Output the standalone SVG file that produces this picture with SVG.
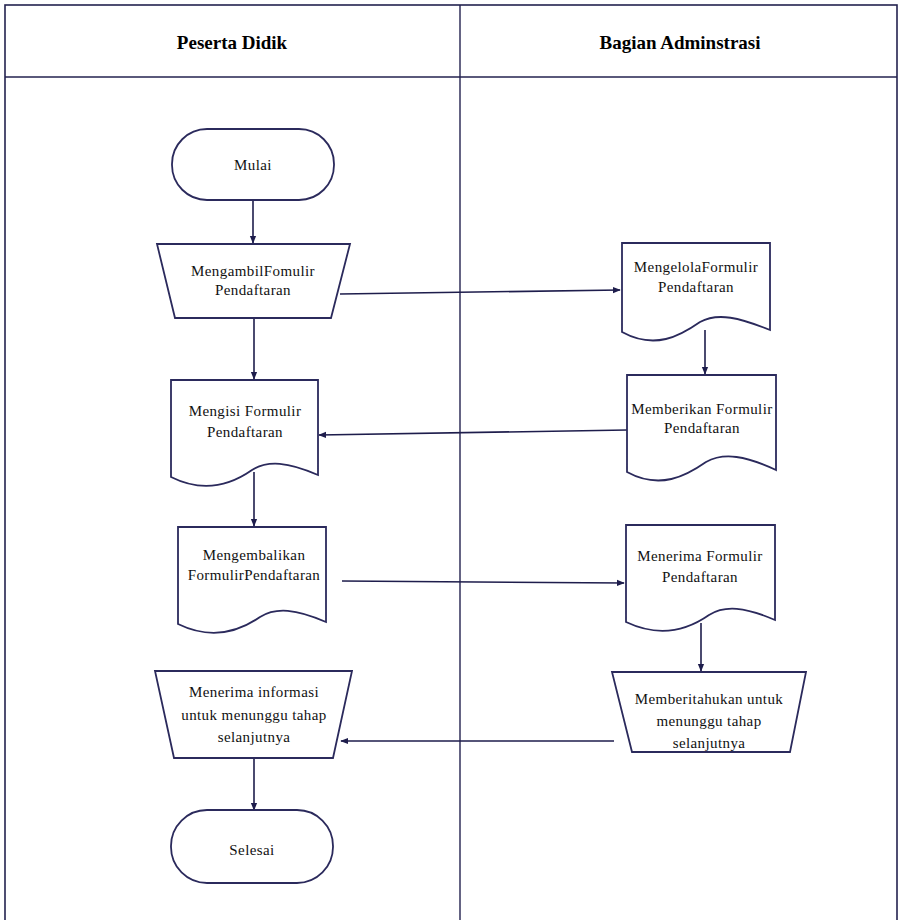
<svg xmlns="http://www.w3.org/2000/svg" width="899" height="920" viewBox="0 0 899 920">
<defs>
<marker id="ah" viewBox="0 0 10 10" refX="9" refY="5" markerWidth="8" markerHeight="8" markerUnits="userSpaceOnUse" orient="auto">
<path d="M0,1 L10,5 L0,9 z" fill="#1e1d4c"/>
</marker>
</defs>
<g id="lanes">
<rect x="5" y="5" width="892" height="925" fill="none" stroke="#23224f" stroke-width="1.6"/>
<line x1="5" y1="77" x2="897" y2="77" stroke="#23224f" stroke-width="1.6"/>
<line x1="460" y1="5" x2="460" y2="920" stroke="#23224f" stroke-width="1.4"/>
<g font-family="Liberation Serif" font-size="19" font-weight="bold" fill="#000" text-anchor="middle">
<text x="232" y="49">Peserta Didik</text>
<text x="680" y="49">Bagian Adminstrasi</text>
</g>
</g>
<g id="connectors" fill="none" stroke="#1e1d4c" stroke-width="1.6" marker-end="url(#ah)">
<line x1="253" y1="200" x2="253" y2="243"/>
<line x1="340" y1="294" x2="620" y2="290"/>
<line x1="254" y1="318" x2="254" y2="379"/>
<line x1="705" y1="330" x2="705" y2="374"/>
<line x1="627" y1="430" x2="319" y2="435"/>
<line x1="254" y1="472" x2="254" y2="526"/>
<line x1="342" y1="581" x2="624" y2="583"/>
<line x1="701" y1="623" x2="701" y2="671"/>
<line x1="614" y1="741" x2="341" y2="741"/>
<line x1="254" y1="758" x2="254" y2="810"/>
</g>
<g id="nodes" font-family="Liberation Serif" font-size="15" letter-spacing="0.4" text-anchor="middle">
<g id="mulai">
<rect fill="#fff" stroke="#2b2a5c" stroke-width="1.8" x="172" y="129" width="162" height="71" rx="35" ry="35"/>
<text fill="#111" x="253" y="170">Mulai</text>
</g>
<g id="mengambil">
<path fill="#fff" stroke="#2b2a5c" stroke-width="1.8" d="M157,244 L350,244 L331,318 L175,318 Z"/>
<text fill="#111" x="253" y="276">MengambilFomulir</text>
<text fill="#111" x="253" y="295">Pendaftaran</text>
</g>
<g id="mengelola">
<path fill="#fff" stroke="#2b2a5c" stroke-width="1.8" d="M622,243 L770,243 L770,330 C740,318 718,312 700,322 C680,336 655,350 622,332 Z"/>
<text fill="#111" x="696" y="272">MengelolaFormulir</text>
<text fill="#111" x="696" y="292">Pendaftaran</text>
</g>
<g id="memberikan">
<path fill="#fff" stroke="#2b2a5c" stroke-width="1.8" d="M627,375 L776,375 L776,470 C746,456 724,452 706,462 C686,476 660,490 627,472 Z"/>
<text fill="#111" x="702" y="414">Memberikan Formulir</text>
<text fill="#111" x="702" y="433">Pendaftaran</text>
</g>
<g id="mengisi">
<path fill="#fff" stroke="#2b2a5c" stroke-width="1.8" d="M171,380 L318,380 L318,475 C288,462 268,460 252,470 C232,484 205,494 171,477 Z"/>
<text fill="#111" x="245" y="416">Mengisi Formulir</text>
<text fill="#111" x="245" y="437">Pendaftaran</text>
</g>
<g id="mengembalikan">
<path fill="#fff" stroke="#2b2a5c" stroke-width="1.8" d="M178,527 L326,527 L326,622 C296,609 276,607 260,617 C240,631 213,641 178,624 Z"/>
<text fill="#111" x="254" y="560">Mengembalikan</text>
<text fill="#111" x="254" y="580">FormulirPendaftaran</text>
</g>
<g id="menerima-formulir">
<path fill="#fff" stroke="#2b2a5c" stroke-width="1.8" d="M626,525 L775,525 L775,620 C745,607 725,605 709,615 C689,629 662,639 626,622 Z"/>
<text fill="#111" x="700" y="561">Menerima Formulir</text>
<text fill="#111" x="700" y="582">Pendaftaran</text>
</g>
<g id="memberitahukan">
<path fill="#fff" stroke="#2b2a5c" stroke-width="1.8" d="M612,672 L806,672 L790,752 L632,752 Z"/>
<text fill="#111" x="709" y="704">Memberitahukan untuk</text>
<text fill="#111" x="709" y="726">menunggu tahap</text>
<text fill="#111" x="709" y="748">selanjutnya</text>
</g>
<g id="menerima-informasi">
<path fill="#fff" stroke="#2b2a5c" stroke-width="1.8" d="M155,671 L352,671 L333,758 L174,758 Z"/>
<text fill="#111" x="254" y="697">Menerima informasi</text>
<text fill="#111" x="254" y="720">untuk menunggu tahap</text>
<text fill="#111" x="254" y="742">selanjutnya</text>
</g>
<g id="selesai">
<rect fill="#fff" stroke="#2b2a5c" stroke-width="1.8" x="171" y="810" width="162" height="73" rx="36" ry="36"/>
<text fill="#111" x="252" y="855">Selesai</text>
</g>
</g>
</svg>
